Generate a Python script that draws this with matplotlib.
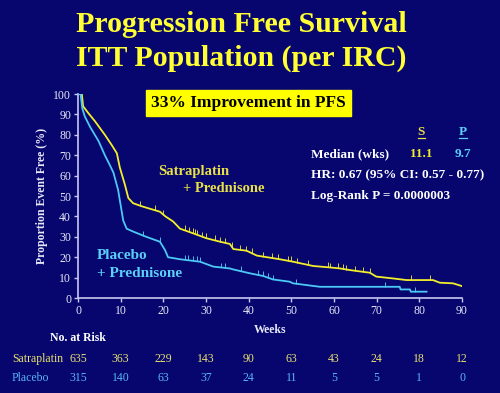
import matplotlib
matplotlib.use("Agg")
import matplotlib.pyplot as plt
import numpy as np

# Kaplan-Meier curves (weeks, % event free)
sat_weeks = [0, 0.9, 1.2, 2.4, 4, 6.3, 7.9, 9.1, 9.8, 11, 11.8, 12.9, 14.9, 19.2, 20.5,
             22.3, 23.9, 27, 30.1, 33.3, 35.6, 36.4, 39.5, 41.9, 47.3, 50.4, 55.1, 59,
             61.4, 63.7, 68.4, 69.9, 73.8, 77, 83.2, 84.8, 87.9, 89.9]
sat_pct = [100, 100, 94, 90.7, 86.6, 80, 75, 71, 64, 55.5, 49, 46.5, 45, 42.3, 40,
           37.5, 34, 31.7, 29.3, 27.6, 26.5, 24, 23.2, 20.8, 19, 17.8, 15.7, 15,
           14.5, 13.7, 12.4, 10.5, 9.6, 8.8, 8.8, 7.5, 7.2, 5.9]

pla_weeks = [0, 0.6, 1, 1.6, 2.8, 4.8, 6.3, 7.5, 8.3, 9.4, 10.6, 11.4, 13, 16, 19.2,
             20.4, 21.1, 23.9, 28.6, 31.7, 35.6, 36.4, 40.3, 43.4, 45.7, 49.6, 50.4,
             56.7, 75.4, 75.6, 77.8, 78, 81.7]
pla_pct = [100, 100, 93, 89, 84, 77, 70, 65, 61.5, 53, 38, 34, 32.5, 30, 27.6,
           23.5, 20, 19, 17.8, 15.4, 14.5, 14, 12.1, 10.8, 9.1, 8, 7.2,
           5.5, 5.5, 4.2, 4.2, 3.1, 3.1]

# censoring marks (weeks)
sat_censor = [14.5, 18, 20, 25, 26, 27, 27.5, 28, 29, 30, 32, 33.3, 34.4, 36, 37.9,
              39.3, 40.7, 43.4, 45.4, 46.9, 49.3, 50, 51.4, 54, 58.6, 59, 61, 62.1,
              62.9, 64.9, 66.8, 68.4, 78.1, 82.4]
pla_censor = [15.3, 19.2, 25, 25.8, 27, 27.8, 28.6, 33.6, 34.4, 38.3, 42.2, 43.4,
              44.6, 45.7, 51.2, 71.9, 78.9]

# number at risk table
risk_weeks = [0, 10, 20, 30, 40, 50, 60, 70, 80, 90]
risk_sat = [635, 363, 229, 143, 90, 63, 43, 24, 18, 12]
risk_pla = [315, 140, 63, 37, 24, 11, 5, 5, 1, 0]

BG = '#06066e'
YEL = '#f2ee2a'
CYA = '#4cc8f4'
AXC = '#c8c8f0'
SERIF = ['Liberation Serif', 'DejaVu Serif']

fig = plt.figure(figsize=(5, 3.93), dpi=100, facecolor=BG)
ax = fig.add_axes([0.156, 0.2417, 0.768, 0.519])
ax.set_facecolor(BG)

ax.plot(sat_weeks, sat_pct, color=YEL, lw=1.3, zorder=3)
ax.plot(pla_weeks, pla_pct, color=CYA, lw=1.3, zorder=3)

sy = np.interp(sat_censor, sat_weeks, sat_pct)
py = np.interp(pla_censor, pla_weeks, pla_pct)
ax.vlines(sat_censor, sy, sy + 2.4, color='#d8d040', lw=0.7, zorder=2)
ax.vlines(pla_censor, py, py + 2.4, color='#4cb8e8', lw=0.7, zorder=2)

ax.set_xlim(0, 90)
ax.set_ylim(0, 100)
ax.set_xticks(range(0, 91, 10))
ax.set_yticks(range(0, 101, 10))
for s in ['top', 'right']:
    ax.spines[s].set_visible(False)
for s in ['left', 'bottom']:
    ax.spines[s].set_color(AXC)
    ax.spines[s].set_linewidth(1.2)
ax.tick_params(colors=AXC, length=3, width=1, direction='out', pad=2)
for lab in ax.get_xticklabels() + ax.get_yticklabels():
    lab.set_family(SERIF)
    lab.set_fontsize(8.5)
    lab.set_color('#e8e8f8')
ax.set_xlabel('Weeks', family=SERIF, fontsize=8.5, weight='bold', color='#e8e8f8', labelpad=5)
ax.set_ylabel('Proportion Event Free (%)', family=SERIF, fontsize=8.5, weight='bold',
              color='#e8e8f8', labelpad=4)

# title
fig.text(0.483, 0.937, 'Progression Free Survival', family=SERIF, weight='bold', fontsize=21.5,
         color='#ffff33', ha='center', va='center')
fig.text(0.483, 0.852, 'ITT Population (per IRC)', family=SERIF, weight='bold', fontsize=21.5,
         color='#ffff33', ha='center', va='center')

# yellow box
ax.text(40, 95.6, '33% Improvement in PFS', family=SERIF, weight='bold', fontsize=12.5,
        color='black', ha='center', va='center',
        bbox=dict(boxstyle='square,pad=0.3', fc='#ffff00', ec='#ffff00'))

# curve labels
ax.text(18.8, 62, 'Satraplatin', family=SERIF, weight='bold', fontsize=10.5,
        color='#e8e04a', ha='left', va='center')
ax.text(24.5, 53.5, '+ Prednisone', family=SERIF, weight='bold', fontsize=10.5,
        color='#e8e04a', ha='left', va='center')
ax.text(4.5, 21, 'Placebo', family=SERIF, weight='bold', fontsize=11,
        color='#5ccff8', ha='left', va='center')
ax.text(4.5, 12, '+ Prednisone', family=SERIF, weight='bold', fontsize=11,
        color='#5ccff8', ha='left', va='center')

# stats block
ax.text(80.5, 81.5, 'S', family=SERIF, weight='bold', fontsize=9.5, color='#e8e04a',
        ha='center', va='center')
ax.text(90.3, 81.5, 'P', family=SERIF, weight='bold', fontsize=9.5, color='#5ccff8',
        ha='center', va='center')
ax.plot([79.6, 81.4], [78.4, 78.4], color='#e8e04a', lw=0.9, clip_on=False)
ax.plot([89.4, 91.2], [78.4, 78.4], color='#5ccff8', lw=0.9, clip_on=False)
ax.text(54.7, 70.5, 'Median (wks)', family=SERIF, weight='bold', fontsize=9.5,
        color='white', ha='left', va='center')
ax.text(80.5, 70.5, '11.1', family=SERIF, weight='bold', fontsize=9.5,
        color='#f2ee2a', ha='center', va='center')
ax.text(90.3, 70.5, '9.7', family=SERIF, weight='bold', fontsize=9.5,
        color='#5ccff8', ha='center', va='center')
ax.text(54.7, 60.3, 'HR: 0.67 (95% CI: 0.57 - 0.77)', family=SERIF, weight='bold',
        fontsize=9.5, color='white', ha='left', va='center', clip_on=False)
ax.text(54.7, 49.8, 'Log-Rank P = 0.0000003', family=SERIF, weight='bold',
        fontsize=9.5, color='white', ha='left', va='center')

# number at risk
fig.text(0.155, 1 - 338 / 393, 'No. at Risk', family=SERIF, weight='bold', fontsize=8.5,
         color='white', ha='center', va='center')
fig.text(0.024, 1 - 359 / 393, 'Satraplatin', family=SERIF, fontsize=8.5,
         color='#e8e070', ha='left', va='center')
fig.text(0.024, 1 - 378 / 393, 'Placebo', family=SERIF, fontsize=8.5,
         color='#5ab4f5', ha='left', va='center')
trans = ax.get_xaxis_transform()
for w, s, p in zip(risk_weeks, risk_sat, risk_pla):
    ax.text(w, -(359 - 298) / 204, str(s), transform=trans, family=SERIF, fontsize=8.5,
            color='#e8e070', ha='center', va='center', clip_on=False)
    ax.text(w, -(378 - 298) / 204, str(p), transform=trans, family=SERIF, fontsize=8.5,
            color='#5ab4f5', ha='center', va='center', clip_on=False)

fig.savefig('out.png', dpi=100, facecolor=BG)
